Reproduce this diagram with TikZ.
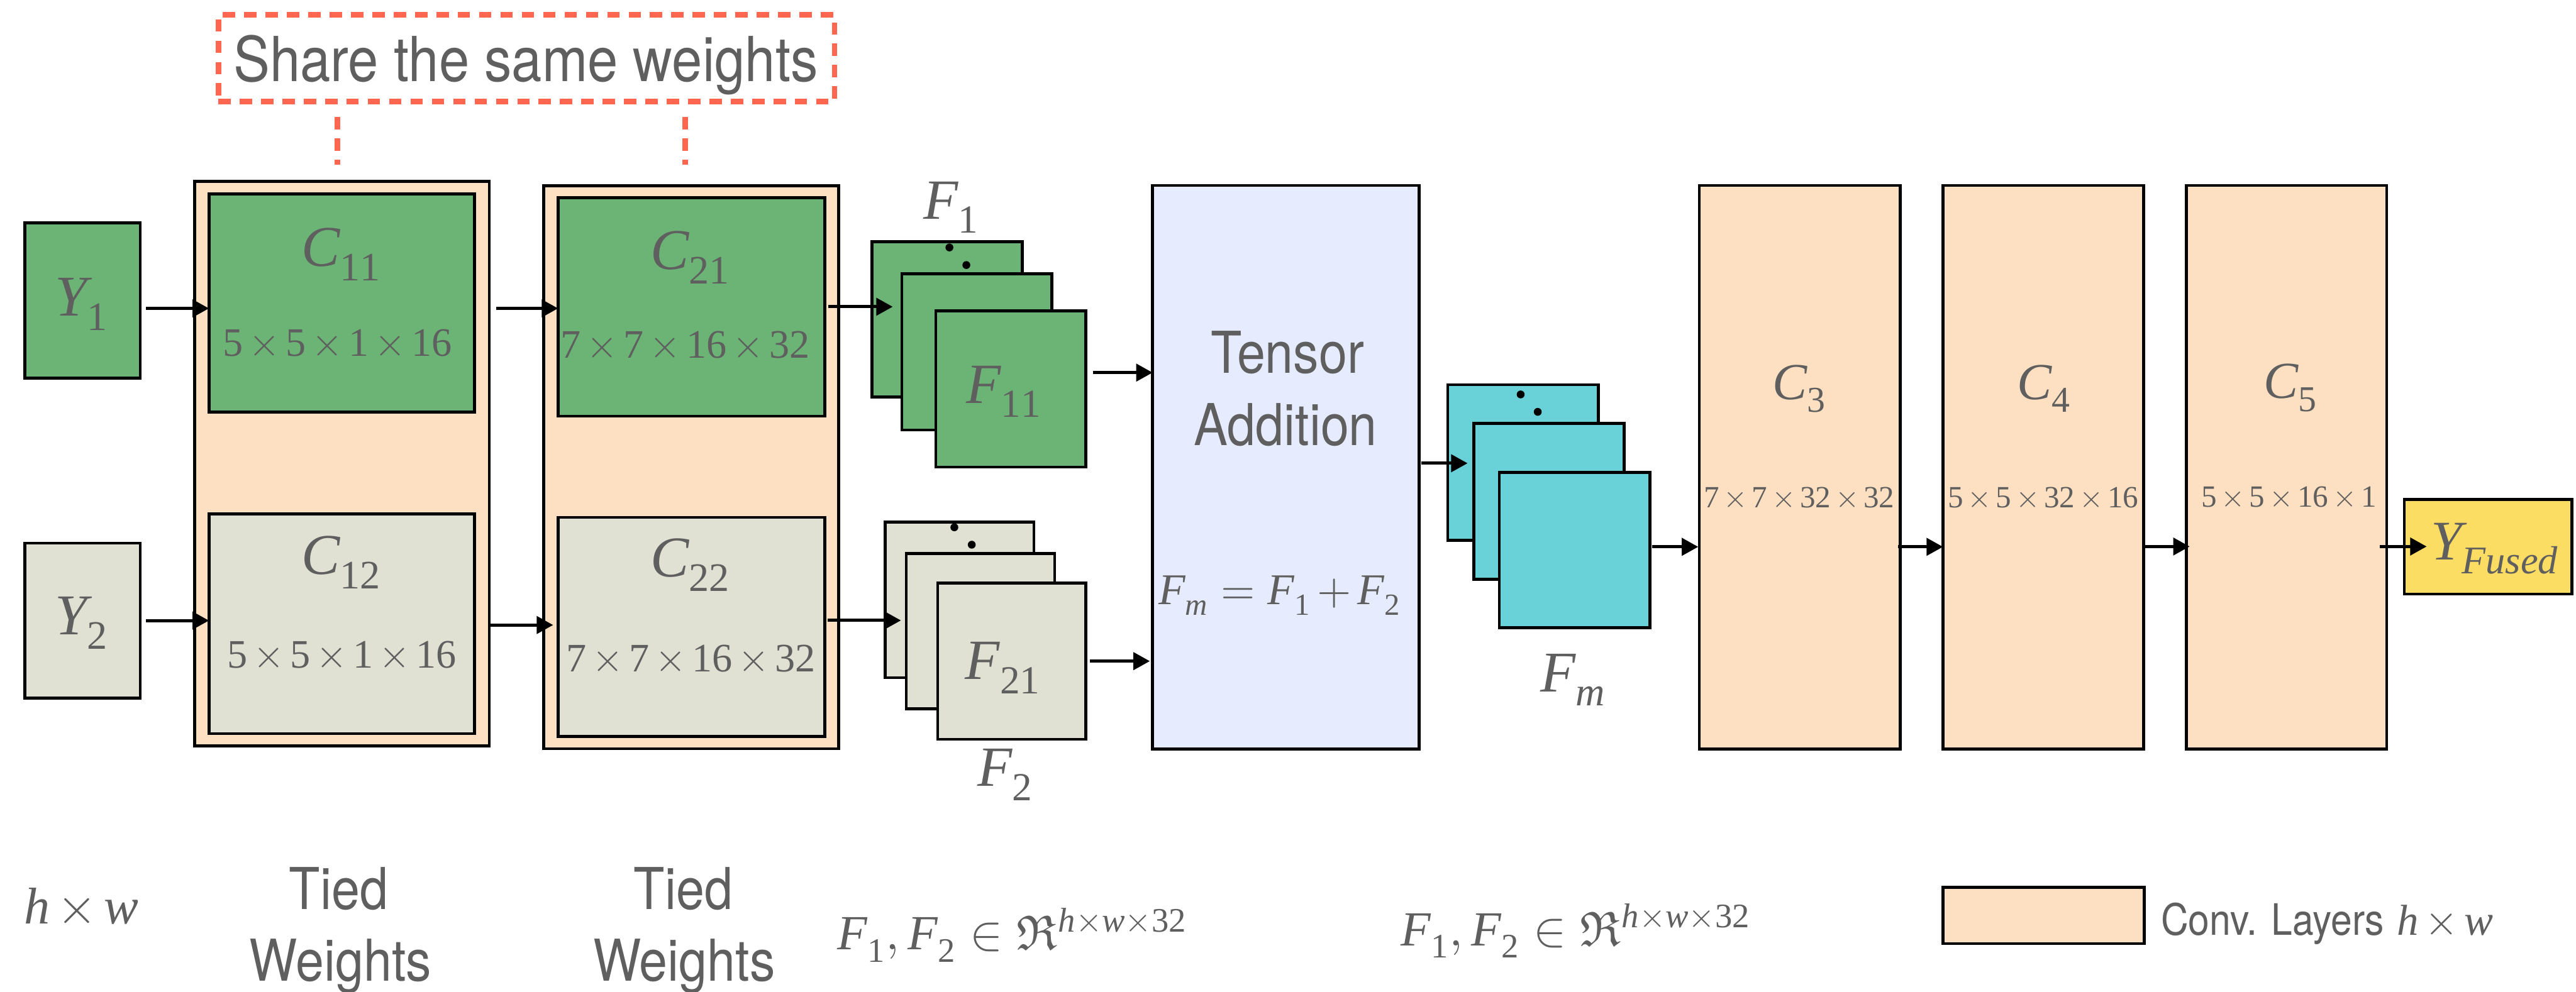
\documentclass[tikz,border=0pt]{standalone}
\usepackage{fontspec}
\usepackage{unicode-math}
\setmathfont{Latin Modern Math}
\setmathfont{Liberation Serif Italic}[range={it/{Latin,latin}}]
\setmathfont{Liberation Serif}[range={up/{num}}]
\newfontfamily\lightsf{TeX Gyre Heros}[FakeStretch=0.88]
\usetikzlibrary{arrows.meta,calc}
\definecolor{peach}{RGB}{253,223,193}
\definecolor{grn}{RGB}{108,180,117}
\definecolor{beige}{RGB}{224,224,211}
\definecolor{lav}{RGB}{230,235,253}
\definecolor{cyn}{RGB}{105,210,216}
\definecolor{ylw}{RGB}{252,221,99}
\definecolor{redd}{RGB}{255,102,80}
\definecolor{txt}{RGB}{95,95,95}
\newcommand\fs[1]{\fontsize{#1}{#1}\selectfont}
\newcommand\bx[6]{\node[#2, minimum width={(#5-(#3))*0.02cm}, minimum height={(#6-(#4))*0.02cm}] (#1) at ({(#3+#5)/2},{(#4+#6)/2}) {};}
\newcommand\arr[5]{\draw[arr] ($(#1 |- 0,#5)+(#2,0)$) -- ($(#3 |- 0,#5)+(#4,0)$);}
\tikzset{
  blk/.style={draw=black, line width=1pt, rectangle, inner sep=0pt, outer sep=0pt},
  pch/.style={blk, fill=peach},
  gbox/.style={blk, fill=grn},
  bbox/.style={blk, fill=beige},
  lbox/.style={blk, fill=lav},
  cbox/.style={blk, fill=cyn},
  ybox/.style={blk, fill=ylw},
  reddash/.style={draw=redd, line width=1.9pt, dash pattern=on 0.15cm off 0.11cm},
  arr/.style={line width=1.1pt, -{Triangle[length=2mm,width=2.1mm]}},
  lbl/.style={text=txt, inner sep=0pt, outer sep=0pt},
  dot/.style={circle, fill=black, inner sep=0pt, minimum size=0.096cm},
}
\begin{document}
\medmuskip=2.5mu plus 1mu minus 1mu\relax
\begin{tikzpicture}[x=0.02cm, y=-0.02cm]
\useasboundingbox (0,0) rectangle (1568,604);
% shared weights box
\bx{share}{reddash, rectangle, inner sep=0pt}{132.9}{9.0}{508}{61.9}
\node[lbl, anchor=base] (tshare) at (320,49.5) {\lightsf\fs{21.5}Share the same weights};
\draw[reddash] ($(share.south -| 205.5,0)+(0,7.7)$) -- (205.5,100.4) coordinate (d1);
\draw[reddash] ($(share.south -| 417,0)+(0,7.7)$) -- (417,100.4) coordinate (d2);
% tied blocks
\bx{T1}{pch}{118.5}{110.4}{297.9}{454.2}
\bx{T2}{pch}{331.0}{113.1}{510.4}{455.9}
\bx{C11}{gbox}{127.2}{118.1}{288.8}{251.0}
\bx{C12}{bbox}{127.2}{312.9}{288.8}{446.8}
\bx{C21}{gbox}{339.7}{120.5}{502.1}{253.4}
\bx{C22}{bbox}{339.7}{315.0}{502.1}{448.5}
\bx{Y1}{gbox}{15.1}{135.6}{85.3}{230.3}
\bx{Y2}{bbox}{15.1}{330.7}{85.3}{425.1}
% feature stacks
\bx{F1b}{gbox}{530.7}{147.2}{622.2}{241.7}
\bx{F1m}{gbox}{549.0}{166.7}{640.2}{261.8}
\bx{F1f}{gbox}{569.6}{189.4}{660.9}{284.5}
\bx{F2b}{bbox}{538.9}{317.9}{629.3}{412.7}
\bx{F2m}{bbox}{551.6}{337.1}{642.0}{431.6}
\bx{F2f}{bbox}{570.8}{355.1}{660.9}{450.2}
\bx{TA}{lbox}{701.6}{112.9}{863.8}{456.1}
\bx{Fmb}{cbox}{881.3}{234.3}{972.9}{329.1}
\bx{Fmm}{cbox}{897.1}{257.9}{988.5}{352.7}
\bx{Fmf}{cbox}{912.6}{287.7}{1004.2}{382.3}
\bx{C3}{pch}{1034.3}{112.9}{1156.6}{456.1}
\bx{C4}{pch}{1182.7}{112.9}{1304.9}{456.1}
\bx{C5}{pch}{1330.8}{112.9}{1452.7}{456.1}
\bx{YF}{ybox}{1463.5}{304.1}{1565.5}{361.7}
\bx{Leg}{pch}{1182.6}{540.3}{1305.2}{574.6}
% dots
\node[dot] (p1) at (577.9,150.7) {};
\node[dot] (p2) at (588.2,161.4) {};
\node[dot] (p3) at (580.9,321.1) {};
\node[dot] (p4) at (591.5,331.7) {};
\node[dot] (p5) at (925.6,240.2) {};
\node[dot] (p6) at (936.0,250.8) {};
% labels
\node[lbl, anchor=base] (lY1) at (49.7,192.5) {\fs{20}$Y_1$};
\node[lbl, anchor=base] (lY2) at (49.7,386.6) {\fs{20}$Y_2$};
\node[lbl, anchor=base] (lC11) at (208,162.3) {\fs{20}$C_{11}$};
\node[lbl, anchor=base] (dC11) at (205.5,216.9) {\fs{14}$5\times5\times1\times16$};
\node[lbl, anchor=base] (lC12) at (208,349.8) {\fs{20}$C_{12}$};
\node[lbl, anchor=base] (dC12) at (208,406.7) {\fs{14}$5\times5\times1\times16$};
\node[lbl, anchor=base] (lC21) at (420.5,164) {\fs{20}$C_{21}$};
\node[lbl, anchor=base] (dC21) at (417.2,218.2) {\fs{14}$7\times7\times16\times32$};
\node[lbl, anchor=base] (lC22) at (420.5,351.4) {\fs{20}$C_{22}$};
\node[lbl, anchor=base] (dC22) at (420.5,409) {\fs{14}$7\times7\times16\times32$};
\node[lbl, anchor=base] (lF1) at (579.2,133.3) {\fs{19.7}$F_1$};
\node[lbl, anchor=base] (lF11) at (611.3,245.5) {\fs{19.7}$F_{11}$};
\node[lbl, anchor=base] (lF21) at (610.7,413.8) {\fs{19.7}$F_{21}$};
\node[lbl, anchor=base] (lF2) at (612,478.8) {\fs{19.7}$F_2$};
\node[lbl, anchor=base] (lT1) at (783.7,227.2) {\lightsf\fs{20}Tensor};
\node[lbl, anchor=base] (lT2) at (782.6,271.2) {\lightsf\fs{20}Addition};
\node[lbl, anchor=base] (lFormula) at (779,368.1) {\fs{15.2}$F_m = F_1 + F_2$};
\node[lbl, anchor=base] (lFm) at (957.7,421.2) {\fs{20}$F_m$};
\node[lbl, anchor=base] (lC3) at (1095.3,243.2) {\fs{18}$C_3$};
\node[lbl, anchor=base] (dC3) at (1095.1,309) {\fs{10.7}$7\times7\times32\times32$};
\node[lbl, anchor=base] (lC4) at (1244.4,243.2) {\fs{18}$C_4$};
\node[lbl, anchor=base] (dC4) at (1243.7,309) {\fs{10.7}$5\times5\times32\times16$};
\node[lbl, anchor=base] (lC5) at (1394.5,242.6) {\fs{18}$C_5$};
\node[lbl, anchor=base] (dC5) at (1393.3,308.9) {\fs{10.7}$5\times5\times16\times1$};
\node[lbl, anchor=base] (lYF) at (1518.7,340.8) {\fs{19.4}$Y_{Fused}$};
% bottom row
\node[lbl, anchor=base] (bhw) at (49.5,562.4) {\fs{17.9}$h\times w$};
\node[lbl, anchor=base] (bt1) at (206.1,553.9) {\lightsf\fs{20}Tied};
\node[lbl, anchor=base] (bw1) at (207.3,597.4) {\lightsf\fs{20}Weights};
\node[lbl, anchor=base] (bt2) at (415.9,553.9) {\lightsf\fs{20}Tied};
\node[lbl, anchor=base] (bw2) at (416.4,597.4) {\lightsf\fs{20}Weights};
\node[lbl, anchor=base] (bf1) at (616.3,578.4) {\fs{17}$F_1, F_2 \in \Re^{h\times w\times 32}$};
\node[lbl, anchor=base] (bf2) at (959.3,575.8) {\fs{17}$F_1, F_2 \in \Re^{h\times w\times 32}$};
\node[lbl, anchor=base west] (bleg) at (1315.4,569.6) {\fs{15}{\lightsf Conv. Layers} $h\times w$};
% arrows
\arr{Y1.east}{3.7}{C11.west}{0}{187.8}
\arr{Y2.east}{3.7}{C12.west}{0}{377.9}
\arr{T1.east}{4}{C21.west}{0}{187.8}
\arr{T1.east}{0}{C22.west}{-3}{380.6}
\arr{C21.east}{2}{F1m.west}{-5.6}{186.8}
\arr{C22.east}{1.8}{F2m.west}{-3.2}{377.8}
\arr{F1f.east}{4.4}{TA.west}{0}{226.9}
\arr{F2f.east}{2.4}{TA.west}{-1.7}{402.6}
\arr{TA.east}{1.4}{Fmm.west}{-3.8}{282.1}
\arr{Fmf.east}{1.5}{C3.west}{-0.6}{333}
\arr{C3.east}{-1.2}{C4.west}{0}{333}
\arr{C4.east}{0}{C5.west}{2}{332.8}
\arr{C5.east}{-4.3}{YF.west}{13.6}{332.8}
\end{tikzpicture}
\end{document}
